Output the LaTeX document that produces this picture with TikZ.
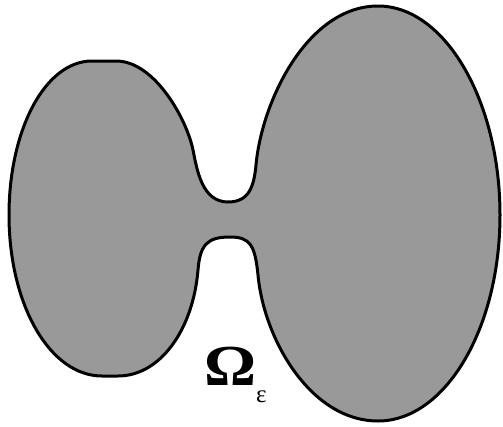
\documentclass[tikz,border=0pt]{standalone}
\usepackage{fontspec}
\setmainfont{Liberation Serif}
\definecolor{blobgray}{HTML}{999999}
\tikzset{blob/.style={fill=blobgray,draw=black,line width=3pt,line join=round},
  lbl/.style={inner sep=0pt,anchor=base west}}
\begin{document}
\begin{tikzpicture}[x=1pt,y=-1pt]
\useasboundingbox (0,0) rectangle (503,426);
\draw[blob] (9,215) .. controls (9,130) and (45,61) .. (92,61) -- (116,61)
  .. controls (155,61) and (187,120) .. (193,150)
  .. controls (197,170) and (202,202) .. (228,202)
  .. controls (250,202) and (254,185) .. (256,165)
  .. controls (262,100) and (308,6) .. (378,6)
  .. controls (445,6) and (500,101) .. (500,215)
  .. controls (500,329) and (445,421) .. (378,421)
  .. controls (311,421) and (264,340) .. (258,275)
  .. controls (255,245) and (250,237) .. (230,237)
  .. controls (207,237) and (200,245) .. (198,270)
  .. controls (193,330) and (160,376) .. (118,376) -- (102,376)
  .. controls (50,376) and (9,305) .. cycle;
\node[lbl] (omega) at (204,385) {\fontsize{58}{58}\selectfont\bfseries\scalebox{1.12}[1]{Ω}\raisebox{-17pt}{\mdseries\fontsize{25}{25}\selectfont ε}};
\end{tikzpicture}
\end{document}
